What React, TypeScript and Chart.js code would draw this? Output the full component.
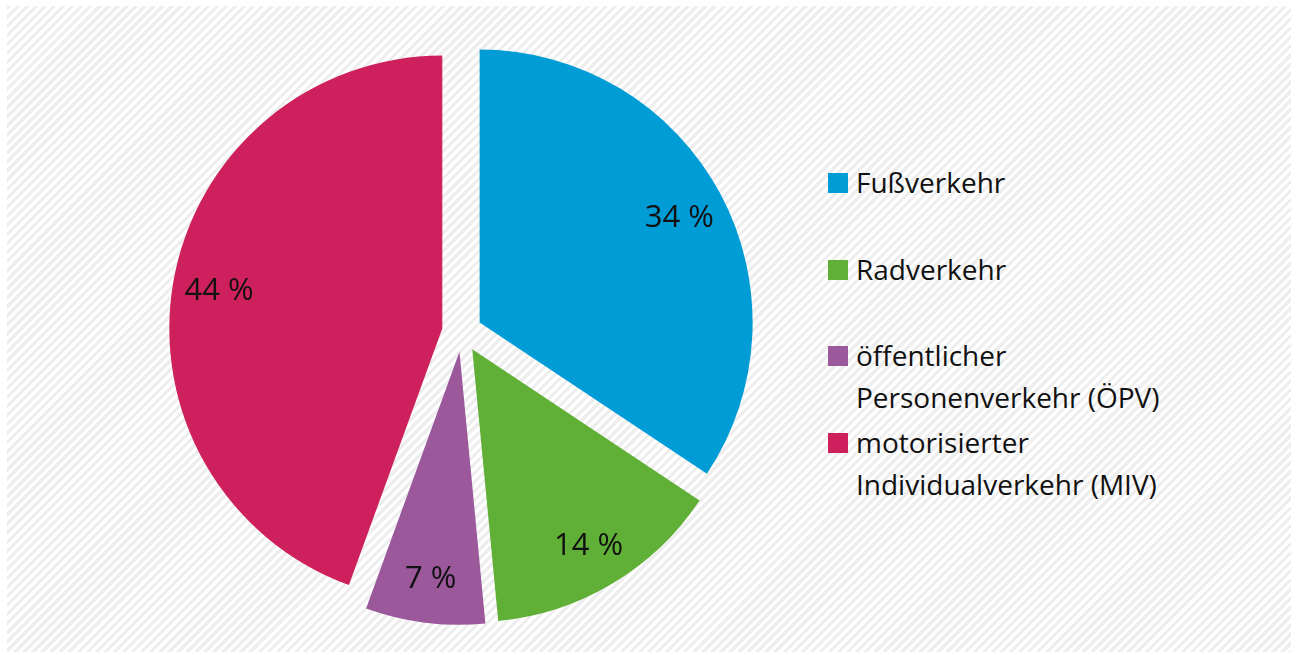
import React, { useEffect, useRef } from "react";
import { Chart, registerables } from "chart.js";

Chart.register(...registerables);

// ---- data ----
const categories = [
  "Fußverkehr",
  "Radverkehr",
  "öffentlicher Personenverkehr (ÖPV)",
  "motorisierter Individualverkehr (MIV)",
];
const legendLines = [
  ["Fußverkehr"],
  ["Radverkehr"],
  ["öffentlicher", "Personenverkehr (ÖPV)"],
  ["motorisierter", "Individualverkehr (MIV)"],
];
const shares = [34, 14, 7, 44];
const colors = ["#009cd6", "#60af36", "#9b589b", "#cf205e"];

// ---- styling constants ----
const EXPLODE = 20;
const LABEL_POS = 0.83;
const LABEL_SIZE = 31;
const FONT = "'Open Sans', 'Noto Sans', sans-serif";

const explodePlugin = {
  id: "explodeAndLabels",
  afterDatasetsUpdate(chart: any) {
    const meta = chart.getDatasetMeta(0);
    meta.data.forEach((arc: any) => {
      const mid = (arc.startAngle + arc.endAngle) / 2;
      arc.x += Math.cos(mid) * EXPLODE;
      arc.y += Math.sin(mid) * EXPLODE;
    });
  },
  afterDatasetsDraw(chart: any) {
    const ctx = chart.ctx;
    const meta = chart.getDatasetMeta(0);
    ctx.save();
    ctx.font = `${LABEL_SIZE}px ${FONT}`;
    ctx.fillStyle = "#111";
    ctx.textAlign = "center";
    ctx.textBaseline = "alphabetic";
    meta.data.forEach((arc: any, i: number) => {
      const mid = (arc.startAngle + arc.endAngle) / 2;
      const r = arc.outerRadius * LABEL_POS;
      const x = arc.x + Math.cos(mid) * r;
      const y = arc.y + Math.sin(mid) * r + LABEL_SIZE * 0.36;
      ctx.fillText(`${shares[i]} %`, x, y);
    });
    ctx.restore();
  },
};

export default function App() {
  const canvasRef = useRef<HTMLCanvasElement | null>(null);

  useEffect(() => {
    if (!canvasRef.current) return;
    const chart = new Chart(canvasRef.current, {
      type: "pie",
      data: {
        labels: categories,
        datasets: [
          {
            data: shares,
            backgroundColor: colors,
            borderWidth: 0,
            hoverOffset: 0,
            offset: 0,
            clip: false as any,
          },
        ],
      },
      options: {
        animation: false,
        responsive: false,
        events: [],
        layout: { padding: 40 },
        plugins: {
          legend: { display: false },
          tooltip: { enabled: false },
        },
      },
      plugins: [explodePlugin as any],
    });
    return () => chart.destroy();
  }, []);

  const ITEM_STEP = 86.7;

  return (
    <div style={{ position: "fixed", left: 0, top: 0, width: 1300, height: 655, background: "#fff", overflow: "hidden" }}>
      <div
        style={{
          position: "absolute",
          left: 7,
          top: 6,
          width: 1284,
          height: 646,
          background: "repeating-linear-gradient(135deg, #eeeeee 0px, #eeeeee 3.2px, #ffffff 3.2px, #ffffff 6.4px)",
        }}
      />
      <canvas
        ref={canvasRef}
        width={626}
        height={626}
        style={{ position: "absolute", left: 149, top: 19, width: 626, height: 626 }}
      />
      <div style={{ position: "absolute", left: 828, top: 161, fontFamily: FONT, fontSize: 28, lineHeight: "42px", color: "#111" }}>
        {legendLines.map((lines, i) => (
          <div key={i} style={{ position: "absolute", left: 0, top: i * ITEM_STEP, whiteSpace: "nowrap" }}>
            <div style={{ position: "absolute", left: 0, top: 12, width: 20, height: 20, background: colors[i] }} />
            <div style={{ marginLeft: 28 }}>
              {lines.map((t, j) => (
                <div key={j}>{t}</div>
              ))}
            </div>
          </div>
        ))}
      </div>
    </div>
  );
}
